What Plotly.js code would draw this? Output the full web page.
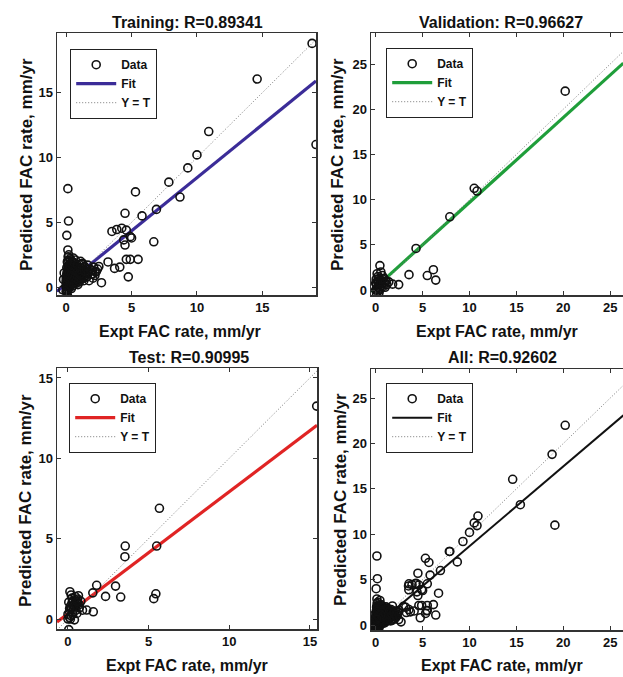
<!DOCTYPE html>
<html>
<head>
<meta charset="utf-8">
<script src="https://cdn.plot.ly/plotly-3.0.1.min.js"></script>
<style>
  html, body { margin: 0; padding: 0; background: #fff; }
  #chart { width: 623px; height: 677px; }
</style>
</head>
<body>
<div id="chart"></div>
<script>
// ---------------- DATA ----------------
const panelTitles = ["Training: R=0.89341", "Validation: R=0.96627", "Test: R=0.90995", "All: R=0.92602"];
const xAxisLabel = "Expt FAC rate, mm/yr";
const yAxisLabel = "Predicted FAC rate, mm/yr";
const legendLabels = ["Data", "Fit", "Y = T"];
const tickValues = [0, 5, 10, 15, 20, 25];

// Training targets (x) and outputs (y)
const trainX = [18.8, 14.6, 19.1, 10.9, 10.0, 9.3, 7.85, 8.7, 6.9, 5.3, 5.8, 4.5, 6.7, 3.5, 3.87, 4.25, 4.6, 4.9, 4.4, 4.5, 5.0, 5.5, 4.9, 4.6, 4.75, 4.1, 3.2, 3.7, 2.7,
  0.13, 0.18, 0.05, 0.13, 0.2, 0.1,
  0.05, 0.1, 0.0, 0.15, 0.05, 0.2, 0.1, 0.0, 0.25, 0.1, 0.2, 0.05, 0.15, 0.3, 0.1, 0.2, 0.05, 0.15, 0.25, 0.1, 0.2, 0.3, 0.15,
  0.4, 0.5, 0.35, 0.6, 0.45, 0.7, 0.55, 0.4, 0.65, 0.5, 0.75, 0.6, 0.4, 0.7, 0.5, 0.8, 0.6, 0.45, 0.7, 0.55,
  0.9, 1.0, 0.85, 1.1, 0.95, 1.2, 1.05, 1.3, 0.9, 1.15, 1.4, 1.0, 1.25, 1.45, 1.35, 1.5, 1.1,
  1.6, 1.7, 1.8, 1.9, 2.0, 2.1, 2.2, 2.3, 2.4, 1.65, 2.5, 1.75, 2.05,
  -0.25, -0.2, -0.15,
  0.0, 0.1, 0.2, 0.3, 0.0, 0.1, 0.2, 0.3, 0.4, 0.0, 0.1, 0.2, 0.3, 0.4, 0.5, 0.0, 0.15, 0.3, 0.45, 0.6, 0.75,
  0.05, 0.2, 0.35, 0.5, 0.65, 0.8, 0.95, 0.1, 0.25, 0.4, 0.55, 0.7, 0.85, 1.0, 1.15,
  0.15, 0.3, 0.45, 0.6, 0.75, 0.9, 1.05, 1.2, 1.35, 0.2, 0.5, 0.8, 1.1, 1.4, 1.7, 2.0,
  0.1, 0.35, 0.6, 0.85, 1.2, 1.55, 1.9, 2.2];
const trainY = [18.8, 16.05, 11.0, 12.0, 10.2, 9.2, 8.1, 6.95, 6.0, 7.35, 5.5, 5.7, 3.5, 4.3, 4.45, 4.55, 4.4, 3.9, 3.65, 3.25, 3.8, 2.15, 2.15, 2.15, 0.8, 1.55, 1.95, 1.45, 0.35,
  7.6, 5.1, 4.0, 2.87, 2.5, -0.65,
  -0.4, -0.2, 0.0, 0.1, 0.2, 0.3, 0.4, 0.5, 0.55, 0.7, 0.8, 0.9, 1.0, 1.1, 1.2, 1.35, 1.5, 1.6, 1.75, 1.9, 2.05, 2.2, 2.35,
  -0.1, 0.1, 0.2, 0.3, 0.45, 0.5, 0.65, 0.8, 0.85, 1.0, 1.05, 1.2, 1.3, 1.4, 1.55, 1.6, 1.8, 2.0, 2.1, 2.25,
  0.2, 0.4, 0.6, 0.7, 0.9, 1.0, 1.15, 1.25, 1.35, 1.5, 1.6, 1.75, 1.85, 0.9, 0.5, 1.1, 2.0,
  0.8, 1.2, 1.4, 1.0, 1.3, 1.55, 0.9, 1.2, 1.4, 1.7, 1.6, 0.5, 0.7,
  -0.2, 0.6, 1.1,
  -0.3, -0.25, -0.1, 0.0, 0.15, 0.05, 0.25, 0.15, 0.35, 0.35, 0.45, 0.6, 0.4, 0.55, 0.3, 0.75, 0.65, 0.7, 0.6, 0.45, 0.3,
  1.05, 0.95, 0.9, 0.8, 0.75, 0.65, 0.5, 1.3, 1.2, 1.15, 1.1, 0.95, 0.85, 0.75, 0.6,
  1.55, 1.45, 1.35, 1.3, 1.2, 1.1, 1.0, 0.85, 0.7, 1.7, 1.65, 1.5, 1.35, 1.25, 1.1, 1.0,
  2.0, 1.85, 1.9, 1.7, 1.75, 1.4, 1.3, 1.2];

// Validation
const valX = [20.2, 10.5, 10.8, 7.9, 4.3, 3.55, 5.5, 6.15, 6.4, 2.45, 1.8, 0.45, 0.1,
  0.0, 0.2, 0.1, 0.3, 0.05, 0.25, 0.5, 0.6, 0.4, 0.8, 0.9, 1.1, 1.2, 0.7, 0.15, 1.0, 1.4, 0.35, -0.2, 0.55,
  0.1, 0.3, 0.5, 0.2, 0.4, 0.6, 0.8, 0.0, 0.25, 0.7, 1.0, 0.45];
const valY = [22.0, 11.25, 10.95, 8.1, 4.6, 1.7, 1.6, 2.25, 1.1, 0.6, 0.65, 2.7, -0.55,
  0.0, 0.3, 0.6, 0.9, 1.2, 1.5, 1.1, 0.5, 0.2, 0.8, 1.3, 1.0, 0.6, 1.6, 1.8, 0.3, 0.9, -0.3, 0.4, 2.0,
  0.1, 0.45, 0.7, 1.0, 1.3, 0.95, 0.4, 0.75, -0.1, 1.25, 0.75, 0.05];

// Test
const testX = [15.42, 5.67, 5.5, 3.55, 3.53, 5.45, 5.32, 2.95, 3.27, 2.33, 1.78, 1.54, 1.57, 1.16, 0.12, 0.05,
  0.0, 0.2, 0.1, 0.35, 0.15, 0.5, 0.3, 0.6, 0.45, 0.7, 0.8, 0.25, 0.55, 0.9, 0.05, 0.4, 0.65, 0.2,
  0.1, 0.3, 0.5, 0.2, 0.4, 0.6, 0.0, 0.25, 0.45, 0.7, 0.15, 0.35, 0.55, 0.1];
const testY = [13.25, 6.89, 4.54, 4.54, 3.88, 1.57, 1.27, 2.05, 1.37, 1.41, 2.1, 1.63, 0.45, 0.56, 1.7, -0.66,
  0.0, 0.2, 0.45, 0.6, 0.8, 0.9, 1.1, 1.25, 1.4, 0.7, 1.1, 1.3, 0.35, 0.55, 1.05, -0.05, 1.45, 1.5,
  0.1, 0.3, 0.55, 0.65, 0.85, 1.0, 0.3, 1.0, 1.2, 0.9, 0.0, 0.8, 1.1, 0.65];

// All = training + validation + test
const allX = trainX.concat(valX, testX);
const allY = trainY.concat(valY, testY);

// Fit line end points
const fitTrainX = [-0.7, 19.1],  fitTrainY = [-0.32, 15.9];
const fitValX   = [-0.5, 26.4],  fitValY   = [-0.17, 25.1];
const fitTestX  = [-0.68, 15.44], fitTestY = [-0.19, 12.06];
const fitAllX   = [-0.5, 26.4],  fitAllY   = [-0.54, 23.1];

// Y = T diagonal end points
const diagTrain = [-0.7, 19.6];
const diagVal   = [-0.55, 28.5];
const diagTest  = [-0.68, 15.62];
const diagAll   = [-0.55, 28.2];

// ---------------- STYLE ----------------
const FONT = "Liberation Sans, Arial, Helvetica, sans-serif";
const INK = "#111";
const fitColors = ["#3b2c98", "#1f9e3a", "#e02424", "#111111"];
const fitWidths = [3.2, 3.2, 3.2, 2];

function panel(xs, ys, fx, fy, diag, color, lw, ax, leg) {
  const xa = "x" + ax, ya = "y" + ax;
  return [
    { x: fx, y: fy, mode: "lines", name: legendLabels[1], xaxis: xa, yaxis: ya, legend: leg, legendrank: 2,
      line: { color: color, width: lw }, hoverinfo: "skip" },
    { x: diag, y: diag, mode: "lines", name: legendLabels[2], xaxis: xa, yaxis: ya, legend: leg, legendrank: 3,
      line: { color: "#7a7a7a", width: 1, dash: "1px,2px" }, hoverinfo: "skip" },
    { x: xs, y: ys, mode: "markers", name: legendLabels[0], xaxis: xa, yaxis: ya, legend: leg, legendrank: 1,
      marker: { symbol: "circle-open", size: 8, color: INK, line: { width: 1.6, color: INK } } }
  ];
}

const data = [].concat(
  panel(trainX, trainY, fitTrainX, fitTrainY, diagTrain, fitColors[0], fitWidths[0], "", "legend"),
  panel(valX, valY, fitValX, fitValY, diagVal, fitColors[1], fitWidths[1], "2", "legend2"),
  panel(testX, testY, fitTestX, fitTestY, diagTest, fitColors[2], fitWidths[2], "3", "legend3"),
  panel(allX, allY, fitAllX, fitAllY, diagAll, fitColors[3], fitWidths[3], "4", "legend4")
);

function axis(domain, range, anchor, mirror) {
  return {
    domain: domain, range: range, anchor: anchor,
    tickvals: tickValues, ticks: "inside", ticklen: 4, tickwidth: 1, tickcolor: "#333",
    showline: true, linecolor: "#333", linewidth: 1.5, mirror: mirror,
    showgrid: false, zeroline: false,
    tickfont: { family: FONT, size: 13, color: INK, weight: "bold" }
  };
}

const W = 623, H = 677;
const px = v => v / W;
const py = v => 1 - v / H;

function legendAt(left, top) {
  return {
    x: px(left), y: py(top), xanchor: "left", yanchor: "top",
    bgcolor: "#fff", bordercolor: "#222", borderwidth: 1.2,
    font: { family: FONT, size: 12, color: INK, weight: "bold" },
    tracegroupgap: 0, itemwidth: 40, traceorder: "normal"
  };
}

function ann(text, x, y, size, angle) {
  return { text: text, x: px(x), y: py(y), xref: "paper", yref: "paper", showarrow: false,
    xanchor: "center", yanchor: "middle", textangle: angle || 0,
    font: { family: FONT, size: size, color: INK, weight: "bold" } };
}

const layout = {
  width: W, height: H,
  margin: { l: 0, r: 0, t: 0, b: 0 },
  paper_bgcolor: "#fff", plot_bgcolor: "#fff",
  showlegend: true,
  xaxis:  axis([px(57), px(316)], [-0.7, 19.1], "y", "ticks"),
  yaxis:  axis([py(295), py(33)], [-0.6, 19.6], "x", "ticks"),
  xaxis2: axis([px(371), 1], [-0.5, 26.36], "y2", "ticks"),
  yaxis2: axis([py(295), py(33)], [-0.55, 28.43], "x2", false),
  xaxis3: axis([px(57), px(317)], [-0.68, 15.44], "y3", "ticks"),
  yaxis3: axis([py(629), py(368)], [-0.62, 15.62], "x3", "ticks"),
  xaxis4: axis([px(371), 1], [-0.5, 26.36], "y4", "ticks"),
  yaxis4: axis([py(630), py(369)], [-0.55, 28.2], "x4", false),
  legend:  legendAt(70, 49),
  legend2: legendAt(386, 48),
  legend3: legendAt(69, 383),
  legend4: legendAt(386, 383),
  annotations: [
    ann(panelTitles[0], 187, 22, 16),
    ann(panelTitles[1], 501, 22, 16),
    ann(panelTitles[2], 189, 357, 16),
    ann(panelTitles[3], 502, 357, 16),
    ann(xAxisLabel, 180, 331, 16),
    ann(xAxisLabel, 497, 331, 16),
    ann(xAxisLabel, 187, 665, 16),
    ann(xAxisLabel, 502, 665, 16),
    ann(yAxisLabel, 27, 165, 17, -90),
    ann(yAxisLabel, 338, 165, 17, -90),
    ann(yAxisLabel, 25, 501, 17, -90),
    ann(yAxisLabel, 340, 500, 17, -90)
  ]
};

Plotly.newPlot("chart", data, layout, { displayModeBar: false, staticPlot: true });
</script>
</body>
</html>
